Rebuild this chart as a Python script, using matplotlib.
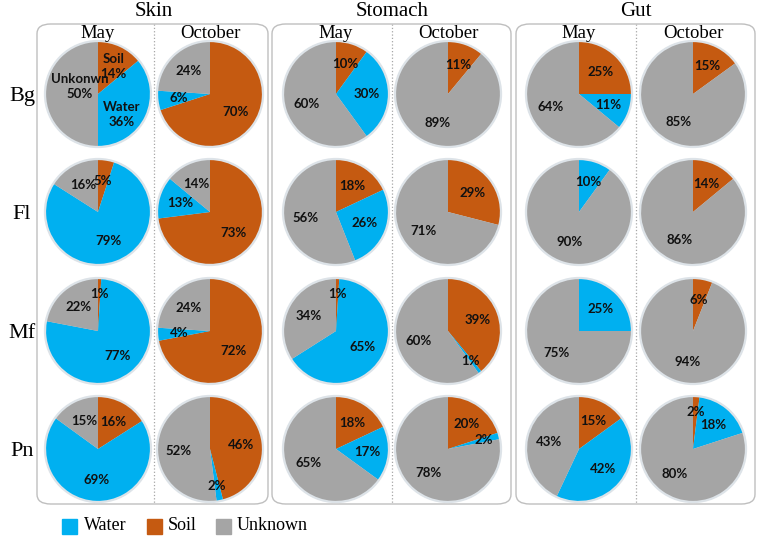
import numpy as np
import matplotlib.pyplot as plt
from matplotlib.patches import FancyBboxPatch, Rectangle, Circle
from matplotlib.lines import Line2D

# data (percent), rows = Skin, Stomach, Gut ; columns = Bg, Fl, Mf, Pn
tissues = ["Skin", "Stomach", "Gut"]
months = ["May", "October"]
species = ["Bg", "Fl", "Mf", "Pn"]
sources = ["Soil", "Water", "Unknown"]

soil_may = [[14, 5, 1, 16], [10, 18, 1, 18], [25, 0, 0, 15]]
water_may = [[36, 79, 77, 69], [30, 26, 65, 17], [11, 10, 25, 42]]
unknown_may = [[50, 16, 22, 15], [60, 56, 34, 65], [64, 90, 75, 43]]

soil_oct = [[70, 73, 72, 46], [11, 29, 39, 20], [15, 14, 6, 2]]
water_oct = [[6, 13, 4, 2], [0, 0, 1, 2], [0, 0, 0, 18]]
unknown_oct = [[24, 14, 24, 52], [89, 71, 60, 78], [85, 86, 94, 80]]

colors = {"Soil": "#C55A11", "Water": "#00B0F0", "Unknown": "#A5A5A5"}

W, H = 760, 538
fig = plt.figure(figsize=(7.6, 5.38), dpi=100)
serif = "Liberation Serif"


def fx(x):
    return x / W


def fy(y):
    return 1 - y / H


# layout in pixels
box_left = [37, 272, 516]
box_right = [268, 511, 755]
box_top, box_bottom = 24, 504
col_x = [[98, 210], [336, 448], [579, 693]]
row_y = [94, 212, 331, 449]
r = 52

# boxes, titles, dividers
for t, name in enumerate(tissues):
    box = FancyBboxPatch((fx(box_left[t]), fy(box_bottom)),
                         fx(box_right[t] - box_left[t]), (box_bottom - box_top) / H,
                         boxstyle="round,pad=0,rounding_size=0.018",
                         transform=fig.transFigure, fc="none", ec="#BFBFBF", lw=1.0, zorder=-2)
    fig.patches.append(box)
    mid = (col_x[t][0] + col_x[t][1]) / 2
    fig.add_artist(Line2D([fx(mid), fx(mid)], [fy(box_top), fy(box_bottom)],
                          transform=fig.transFigure, color="#A6A6A6", lw=0.9, ls=":", zorder=-2))
    fig.text(fx(mid), fy(11), name, ha="center", va="center", fontsize=15, family=serif)
    for m, mname in enumerate(months):
        fig.text(fx(col_x[t][m]), fy(33), mname, ha="center", va="center",
                 fontsize=13.5, family=serif)

for s, sp in enumerate(species):
    fig.text(fx(22), fy(row_y[s] + 2), sp, ha="center", va="center", fontsize=16, family=serif)

month_data = [(soil_may, water_may, unknown_may), (soil_oct, water_oct, unknown_oct)]
first_pie_pos = {"Soil": (0.3, 0.53), "Water": (0.46, -0.4), "Unknown": (-0.35, 0.14)}

for t in range(3):
    for m in range(2):
        so, wa, un = month_data[m]
        for s in range(4):
            vals = [so[t][s], wa[t][s], un[t][s]]
            cx, cy = col_x[t][m], row_y[s]
            ax = fig.add_axes([fx(cx - r - 3), fy(cy + r + 3), (2 * r + 6) / W, (2 * r + 6) / H])
            ax.patch.set_visible(False)
            ax.add_patch(Circle((0, 0), 1.03, color="#DDE3E8", zorder=0))
            wedges, _ = ax.pie(vals, colors=[colors[k] for k in sources], startangle=90,
                               counterclock=False, radius=1.0,
                               wedgeprops=dict(linewidth=0))
            for k, w in enumerate(wedges):
                if vals[k] == 0:
                    continue
                ang = (w.theta1 + w.theta2) / 2
                d = 0.72 if vals[k] <= 2 else 0.6
                x, y = d * np.cos(np.radians(ang)), d * np.sin(np.radians(ang))
                txt = f"{vals[k]}%"
                if t == 0 and m == 0 and s == 0:
                    lab = "Unkonwn" if sources[k] == "Unknown" else sources[k]
                    txt = f"{lab}\n{vals[k]}%"
                    x, y = first_pie_pos[sources[k]]
                ax.text(x, y, txt, ha="center", va="center", fontsize=9.5,
                        fontweight="bold", family="Lato", color="#111111", linespacing=1.3)
            ax.set_xlim(-1.06, 1.06)
            ax.set_ylim(-1.06, 1.06)
            ax.set_aspect("equal")
            ax.axis("off")

# legend
leg = [("Water", 62, 84), ("Soil", 147, 168), ("Unknown", 216, 237)]
for name, sx, tx in leg:
    fig.patches.append(Rectangle((fx(sx), fy(534)), 15 / W, 15 / H,
                                 transform=fig.transFigure, color=colors[name]))
    fig.text(fx(tx), fy(526), name, ha="left", va="center", fontsize=13, family=serif)

fig.savefig("out.png", dpi=100)
